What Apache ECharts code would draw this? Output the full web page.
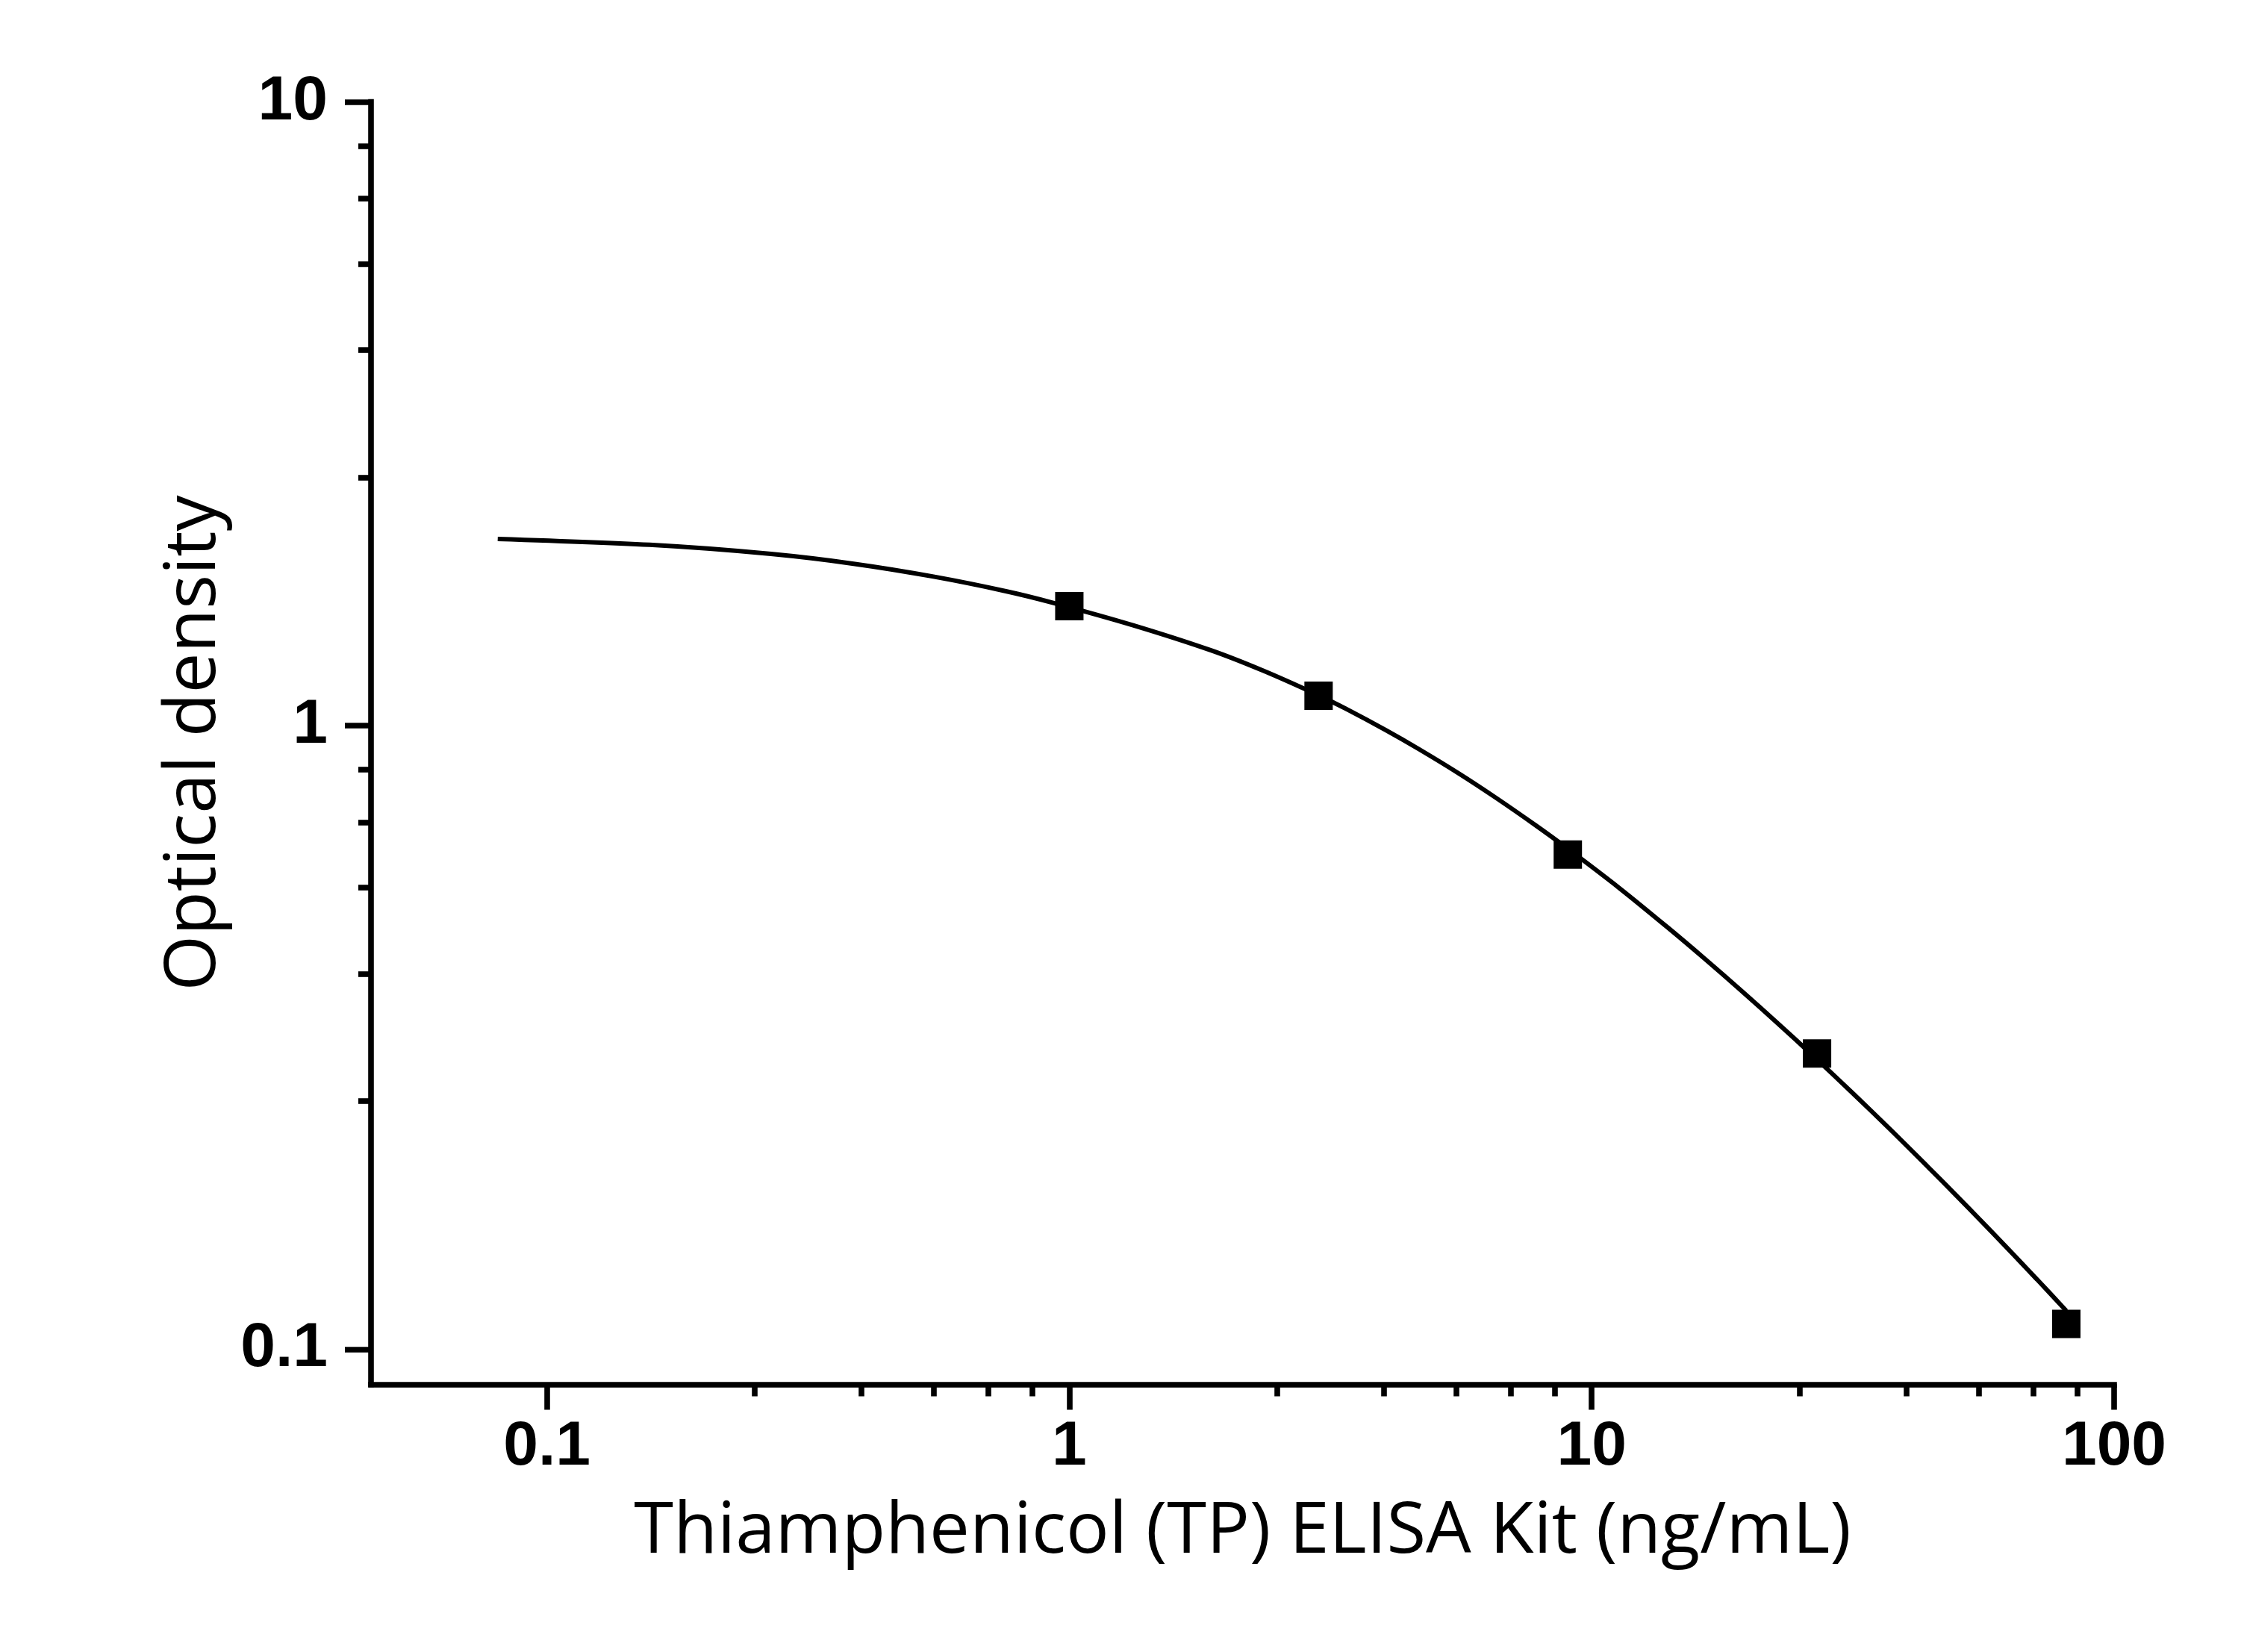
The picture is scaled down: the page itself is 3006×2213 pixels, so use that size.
<!DOCTYPE html>
<html>
<head>
<meta charset="utf-8">
<script src="https://cdn.jsdelivr.net/npm/echarts@6/dist/echarts.min.js"></script>
<style>
html,body{margin:0;padding:0;background:#fff;}
#chart{width:3006px;height:2213px;}
</style>
</head>
<body>
<div id="chart"></div>
<script>
// ---- data ----
const xMajorTicks = [0.1, 1, 10, 100];
const xTickLabels = ['0.1', '1', '10', '100'];
const xMinorTicks = [0.25, 0.4, 0.55, 0.7, 0.85, 2.5, 4, 5.5, 7, 8.5, 25, 40, 55, 70, 85];
const yMajorTicks = [0.1, 1, 10];
const yTickLabels = ['0.1', '1', '10'];
const yMinorTicks = [0.25, 0.4, 0.55, 0.7, 0.85, 2.5, 4, 5.5, 7, 8.5];

const pointX = [1, 3, 9, 27, 81];
const pointY = [1.554, 1.116, 0.621, 0.298, 0.1098];

const curveX = [0.0805, 0.1616, 0.2685, 0.3887, 0.5494, 0.759, 0.9344, 1.321, 1.867, 2.352,
                3.0, 3.383, 4.036, 4.675, 5.577, 6.553, 7.816, 8.99, 11.29, 13.95,
                16.45, 19.4, 22.86, 26.22, 31.77, 37.46, 43.2, 47.62, 58.25, 71.23, 81];
const curveY = [1.991, 1.946, 1.884, 1.816, 1.733, 1.641, 1.572, 1.449, 1.320, 1.224,
                1.118, 1.064, 0.983, 0.916, 0.837, 0.766, 0.6915, 0.635, 0.5489, 0.4751,
                0.4228, 0.3748, 0.3313, 0.2981, 0.2562, 0.2242, 0.1991, 0.1835, 0.1543, 0.1293, 0.1152];

const xMin = 0.04605, xMax = 100;
const yMin = 0.0878, yMax = 10;

const xTitle = 'Thiamphenicol (TP) ELISA Kit (ng/mL)';
const yTitle = 'Optical density';

function pickLabel(v, ticks, labels) {
  let best = 0, bd = Infinity;
  ticks.forEach((t, i) => { const d = Math.abs(Math.log10(v) - Math.log10(t)); if (d < bd) { bd = d; best = i; } });
  return bd < 1e-6 ? labels[best] : '';
}

const AX = '#000';
const LW = 7.6;
const labelFont = {color: AX, fontFamily: 'Liberation Sans', fontWeight: 'bold', fontSize: 84};
const nameFont = {color: AX, fontFamily: 'Open Sans', fontSize: 96, lineHeight: 96};

const chart = echarts.init(document.getElementById('chart'), null, {renderer: 'canvas'});
chart.setOption({
  animation: false,
  backgroundColor: '#fff',
  grid: {left: 497, right: 174, top: 136.5, bottom: 358.5, containLabel: false},
  xAxis: [
    {
      type: 'log', logBase: 10, min: xMin, max: xMax, position: 'bottom',
      name: xTitle, nameLocation: 'middle', nameGap: 150, nameTextStyle: nameFont,
      axisLine: {show: true, onZero: false, lineStyle: {color: AX, width: LW, cap: 'square'}},
      axisTick: {show: true, inside: false, length: 34, customValues: xMajorTicks, lineStyle: {color: AX, width: LW}},
      axisLabel: Object.assign({show: true, margin: 42, customValues: xMajorTicks,
        formatter: v => pickLabel(v, xMajorTicks, xTickLabels)}, labelFont),
      splitLine: {show: false}, minorTick: {show: false}, minorSplitLine: {show: false}
    },
    {
      type: 'log', logBase: 10, min: xMin, max: xMax, position: 'bottom',
      axisLine: {show: false, onZero: false},
      axisTick: {show: true, inside: false, length: 16, customValues: xMinorTicks, lineStyle: {color: AX, width: LW}},
      axisLabel: {show: false},
      splitLine: {show: false}, minorTick: {show: false}
    }
  ],
  yAxis: [
    {
      type: 'log', logBase: 10, min: yMin, max: yMax, position: 'left',
      name: yTitle, nameLocation: 'middle', nameRotate: 90, nameGap: 188, nameTextStyle: nameFont,
      axisLine: {show: true, onZero: false, lineStyle: {color: AX, width: LW, cap: 'square'}},
      axisTick: {show: true, inside: false, length: 35, customValues: yMajorTicks, lineStyle: {color: AX, width: LW}},
      axisLabel: Object.assign({show: true, margin: 58, customValues: yMajorTicks, padding: [0, 0, 22, 0],
        formatter: v => pickLabel(v, yMajorTicks, yTickLabels)}, labelFont),
      splitLine: {show: false}, minorTick: {show: false}, minorSplitLine: {show: false}
    },
    {
      type: 'log', logBase: 10, min: yMin, max: yMax, position: 'left',
      axisLine: {show: false, onZero: false},
      axisTick: {show: true, inside: false, length: 17, customValues: yMinorTicks, lineStyle: {color: AX, width: LW}},
      axisLabel: {show: false},
      splitLine: {show: false}, minorTick: {show: false}
    }
  ],
  series: [
    {
      type: 'line', xAxisIndex: 0, yAxisIndex: 0,
      data: curveX.map((x, i) => [x, curveY[i]]),
      showSymbol: false, symbol: 'none', smooth: 0.3,
      lineStyle: {color: AX, width: 6, opacity: 1}, z: 2, silent: true
    },
    {
      type: 'scatter', xAxisIndex: 0, yAxisIndex: 0,
      data: pointX.map((x, i) => [x, pointY[i]]),
      symbol: 'rect', symbolSize: 38,
      itemStyle: {color: AX, opacity: 1}, z: 3, silent: true
    }
  ]
});
</script>
</body>
</html>
